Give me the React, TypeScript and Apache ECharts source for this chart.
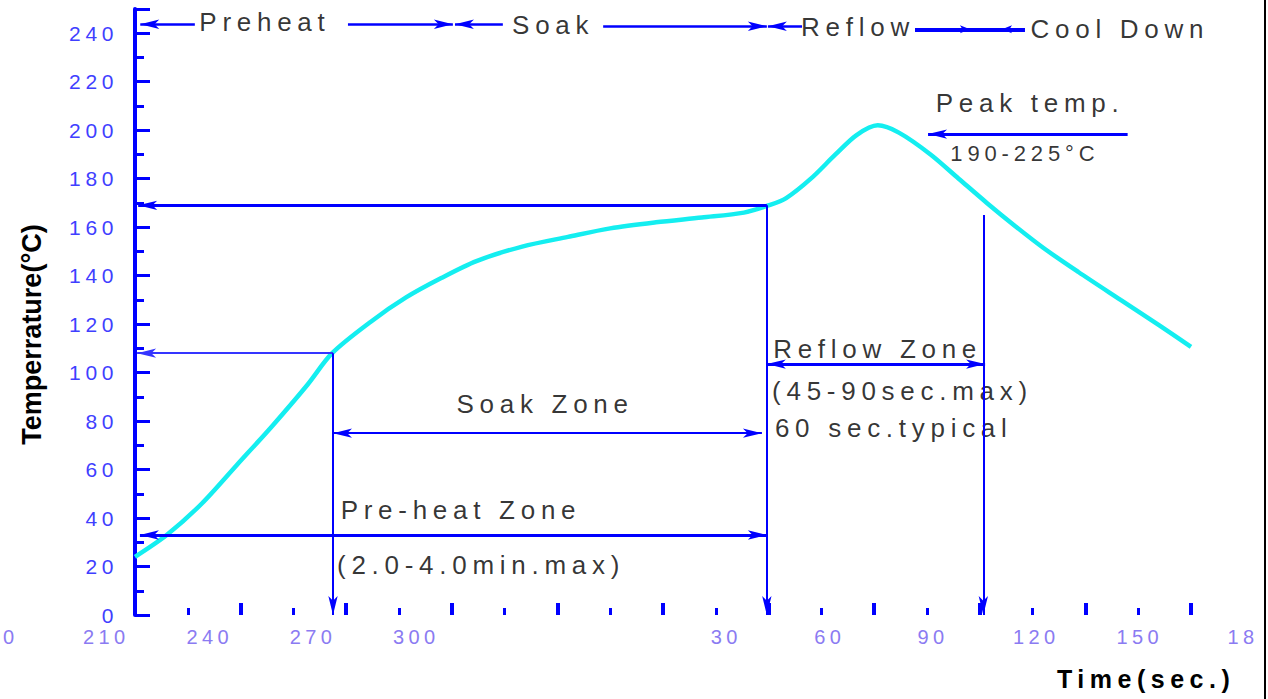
import React, { useEffect, useRef } from 'react';
import * as echarts from 'echarts';

// Reflow solder profile: time (s) and temperature (°C)
const timeSec = [0, 9, 19, 29, 39, 49, 56, 67, 77, 87, 97, 110, 123, 135, 148, 161, 173, 180, 185, 192, 199, 205, 211, 217, 226, 234, 242, 250, 258, 268, 280, 291, 300];
const tempC = [24, 33, 46, 62, 78, 95, 108, 121, 131, 139, 146, 152, 156, 159.5, 162, 164, 166, 169, 172, 180, 190, 198, 202, 199, 190, 180, 170, 160.5, 151.5, 141.5, 130, 119.5, 110.6];

// Bottom tick labels (as printed in the source picture)
const xTickLabels = ['0', '210', '240', '270', '300', '', '', '30', '60', '90', '120', '150', '18'];

// Text annotations (time s, temperature °C)
const noteTexts = ['Preheat', 'Soak', 'Reflow', 'Cool Down', 'Peak temp.', '190-225°C', 'Soak Zone', 'Pre-heat Zone', '(2.0-4.0min.max)', 'Reflow Zone', '(45-90sec.max)', '60 sec.typical'];
const noteTimes = [36.9, 118.8, 205.4, 279.8, 254.3, 252.8, 116.5, 92.6, 57.4, 181.3, 181, 181.8];
const noteTemps = [244.5, 243.3, 242.5, 241.6, 211.1, 190.5, 87, 43.3, 20.6, 109.7, 92.4, 77.1];

// Guide lines / arrows (time s, temperature °C); arrow tips sit on the end points
const guideStartTime = [17, 60.5, 104.5, 133, 189.5, 221.6, 252.8, 221.6, 179.5, 179.5, 56.25, 56.25, 56.25, 1.4, 179.5, 241, 282];
const guideStartTemp = [243.7, 243.7, 243.7, 242.9, 242.9, 241.6, 241.6, 241.6, 169, 169, 108, 108, 75, 33, 103.5, 165, 198.4];
const guideEndTime = [1.5, 90.3, 90.9, 179.5, 179.8, 237.2, 246.3, 252.8, 0.9, 179.5, 0.6, 56.25, 178.1, 179.5, 241.5, 241, 225.3];
const guideEndTemp = [243.7, 243.7, 243.7, 242.9, 242.9, 241.6, 241.6, 241.6, 169, 0, 108, 0, 75, 33, 103.5, 0, 198.4];
const guideHeads = ['end', 'end', 'end', 'end', 'end', 'end', 'end', 'none', 'end', 'end', 'end', 'end', 'both', 'both', 'both', 'end', 'end'];

const BLUE = '#0000ff';
const FONT = "'Liberation Sans', Arial, Helvetica, sans-serif";

const css = `.reflow-chart svg text { letter-spacing: 0.22em; }
.reflow-chart svg text[style*="600"] { letter-spacing: 0; }`;

export default function App() {
  const ref = useRef<HTMLDivElement>(null);

  useEffect(() => {
    const chart = echarts.init(ref.current as HTMLDivElement, null, { renderer: 'svg' });

    const thick = new Set([8, 13, 14, 16]);
    const heavy = new Set([5, 6, 7]);
    const topRow = new Set([0, 1, 2, 3, 4]);
    const guides = guideHeads.map((head, i) => {
      const w = heavy.has(i) ? 4 : thick.has(i) ? 3 : topRow.has(i) ? 2.5 : 2;
      const size = heavy.has(i) ? [6, 10] : [7, 19];
      const ls = { color: i === 10 ? '#3535ff' : BLUE, width: w, type: 'solid' };
      return [
        { coord: [guideStartTime[i], guideStartTemp[i]], symbol: head === 'both' ? 'arrow' : 'none', symbolSize: size, lineStyle: ls },
        { coord: [guideEndTime[i], guideEndTemp[i]], symbol: head === 'none' ? 'none' : 'arrow', symbolSize: size, lineStyle: ls },
      ];
    });

    const leftAligned = new Set([8, 9, 10, 11]);
    const notes = noteTexts.map((text, i) => ({
      value: [noteTimes[i], noteTemps[i]],
      label: {
        show: true,
        position: 'inside',
        formatter: () => text,
        align: leftAligned.has(i) ? 'left' : 'center',
        verticalAlign: 'middle',
        fontSize: i === 5 ? 22 : 26,
        color: '#000000',
        fontFamily: FONT,
      },
    }));

    const option = {
      animation: false,
      backgroundColor: '#ffffff',
      textStyle: { fontFamily: FONT },
      title: {
        text: 'Time(sec.)',
        left: 1057,
        top: 666,
        padding: 0,
        textStyle: { fontSize: 25, fontWeight: 'bold', color: '#000000', fontFamily: FONT },
      },
      grid: [
        { left: 135, right: 77, top: 9, bottom: 84 },
        { left: 0, right: 25, top: 9, bottom: 84 },
      ],
      xAxis: [
        {
          type: 'value',
          gridIndex: 0,
          min: 0,
          max: 300,
          interval: 30,
          axisLine: { show: false },
          axisLabel: { show: false },
          axisTick: { show: true, inside: true, length: 12, lineStyle: { color: BLUE, width: 4 } },
          minorTick: { show: true, splitNumber: 2, length: 7, lineStyle: { color: BLUE, width: 3 } },
          splitLine: { show: false },
          minorSplitLine: { show: false },
        },
        {
          type: 'category',
          gridIndex: 1,
          data: xTickLabels.map((_, i) => String(i)),
          boundaryGap: false,
          axisLine: { show: false },
          axisTick: { show: false },
          splitLine: { show: false },
          axisLabel: {
            interval: 0,
            color: '#8b7bf2',
            fontSize: 20,
            margin: 12,
            fontFamily: FONT,
            alignMinLabel: 'left',
            formatter: (_v: string, i: number) => xTickLabels[i],
          },
        },
      ],
      yAxis: [
        {
          type: 'value',
          gridIndex: 0,
          min: 0,
          max: 250,
          interval: 20,
          name: 'Temperrature(°C)',
          nameLocation: 'middle',
          nameRotate: 90,
          nameGap: 90,
          nameTextStyle: { fontSize: 27, fontWeight: 600, color: '#000000', fontFamily: FONT, padding: [0, 45, 0, 0] },
          axisLine: { show: true, onZero: false, lineStyle: { color: BLUE, width: 4 } },
          axisTick: { show: true, inside: true, length: 15, lineStyle: { color: BLUE, width: 3 } },
          minorTick: { show: true, splitNumber: 2, length: 9, lineStyle: { color: BLUE, width: 3 } },
          splitLine: { show: false },
          minorSplitLine: { show: false },
          axisLabel: {
            color: '#3f3fff',
            fontSize: 21,
            margin: 17,
            fontFamily: FONT,
            formatter: (v: number) => (v % 20 === 0 ? String(v) : ''),
          },
        },
        { type: 'value', gridIndex: 1, show: false, min: 0, max: 250 },
      ],
      graphic: [
        { type: 'line', shape: { x1: 1265, y1: 0, x2: 1265, y2: 699 }, style: { stroke: '#000000', lineWidth: 2 }, silent: true },
      ],
      series: [
        {
          type: 'line',
          name: 'Profile',
          xAxisIndex: 0,
          yAxisIndex: 0,
          data: timeSec.map((t, i) => [t, tempC[i]]),
          smooth: 0.3,
          symbol: 'none',
          lineStyle: { color: '#14eef0', width: 4.5 },
          z: 3,
          markLine: {
            silent: true,
            animation: false,
            label: { show: false },
            emphasis: { disabled: true },
            lineStyle: { color: BLUE, type: 'solid' },
            data: guides,
          },
        },
        {
          type: 'scatter',
          name: 'Notes',
          xAxisIndex: 0,
          yAxisIndex: 0,
          symbolSize: 1,
          itemStyle: { color: 'rgba(0,0,0,0)' },
          silent: true,
          data: notes,
        },
      ],
    };

    chart.setOption(option as any);
    return () => chart.dispose();
  }, []);

  return (
    <div>
      <style>{css}</style>
      <div
        ref={ref}
        className="reflow-chart"
        style={{ position: 'absolute', left: 0, top: 0, width: 1268, height: 699, background: '#ffffff' }}
      />
    </div>
  );
}
